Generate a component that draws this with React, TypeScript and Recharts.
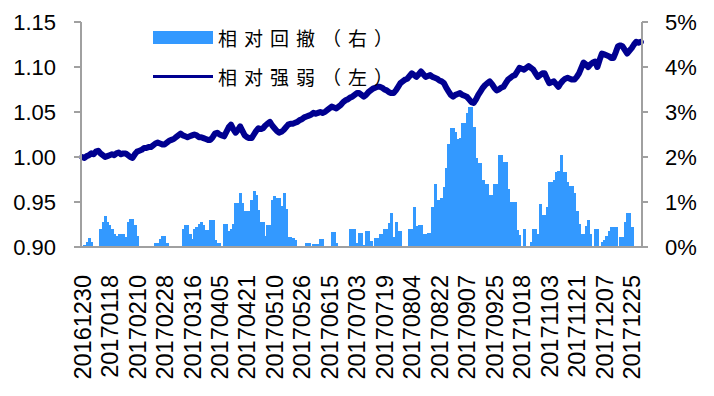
import React from 'react';
import { ComposedChart, Bar, Line, XAxis, YAxis, Legend } from 'recharts';

// 相对强弱 vs 相对回撤, daily, 20161230 - 20171229
const TICK_LABELS = [
  '20161230', '20170118', '20170210', '20170228', '20170316', '20170405', '20170421',
  '20170510', '20170526', '20170615', '20170703', '20170719', '20170804', '20170822',
  '20170907', '20170925', '20171018', '20171103', '20171121', '20171207', '20171225',
];

// relative strength (left axis)
const STRENGTH = [
  1.000, 0.999, 1.001, 1.002, 1.004, 1.003, 1.006, 1.007, 1.004, 1.002,
  1.000, 1.001, 1.002, 1.003, 1.002, 1.004, 1.005, 1.003, 1.004, 1.004,
  1.002, 1.000, 0.999, 1.003, 1.006, 1.007, 1.008, 1.010, 1.010, 1.011,
  1.011, 1.013, 1.015, 1.016, 1.015, 1.014, 1.014, 1.016, 1.018, 1.019,
  1.020, 1.022, 1.024, 1.026, 1.024, 1.023, 1.022, 1.023, 1.024, 1.025,
  1.024, 1.022, 1.022, 1.021, 1.020, 1.019, 1.019, 1.022, 1.026, 1.027,
  1.025, 1.024, 1.023, 1.028, 1.033, 1.036, 1.031, 1.027, 1.030, 1.034,
  1.029, 1.024, 1.022, 1.021, 1.021, 1.025, 1.029, 1.032, 1.031, 1.032,
  1.035, 1.037, 1.039, 1.035, 1.032, 1.029, 1.027, 1.028, 1.030, 1.033,
  1.036, 1.037, 1.037, 1.038, 1.039, 1.041, 1.042, 1.044, 1.045, 1.046,
  1.047, 1.049, 1.048, 1.049, 1.050, 1.049, 1.050, 1.052, 1.054, 1.056,
  1.055, 1.054, 1.056, 1.058, 1.061, 1.063, 1.064, 1.066, 1.067, 1.069,
  1.071, 1.071, 1.069, 1.067, 1.069, 1.072, 1.074, 1.076, 1.077, 1.078,
  1.078, 1.077, 1.075, 1.074, 1.072, 1.071, 1.071, 1.074, 1.078, 1.082,
  1.084, 1.086, 1.087, 1.090, 1.093, 1.091, 1.089, 1.092, 1.095, 1.092,
  1.089, 1.090, 1.091, 1.089, 1.088, 1.087, 1.085, 1.084, 1.082, 1.077,
  1.073, 1.069, 1.067, 1.069, 1.070, 1.071, 1.069, 1.068, 1.067, 1.064,
  1.061, 1.060, 1.064, 1.069, 1.073, 1.077, 1.080, 1.082, 1.084, 1.081,
  1.077, 1.074, 1.075, 1.077, 1.078, 1.082, 1.086, 1.088, 1.090, 1.091,
  1.095, 1.099, 1.098, 1.097, 1.099, 1.101, 1.099, 1.097, 1.093, 1.089,
  1.091, 1.093, 1.093, 1.087, 1.082, 1.083, 1.084, 1.081, 1.078, 1.082,
  1.085, 1.087, 1.088, 1.087, 1.086, 1.086, 1.089, 1.093, 1.099, 1.105,
  1.103, 1.100, 1.103, 1.105, 1.106, 1.100, 1.108, 1.115, 1.114, 1.113,
  1.112, 1.110, 1.110, 1.116, 1.123, 1.124, 1.123, 1.119, 1.115, 1.118,
  1.121, 1.125, 1.128, 1.127, 1.128,
];

// relative drawdown in % (right axis)
const DRAWDOWN = [
  0, 0.05, 0.12, 0.2, 0.12, 0, 0, 0, 0.41, 0.55,
  0.69, 0.55, 0.49, 0.39, 0.3, 0.24, 0.3, 0.3, 0.28, 0.22,
  0.56, 0.62, 0.62, 0.49, 0.24, 0, 0, 0, 0, 0,
  0, 0, 0.1, 0.1, 0.17, 0.24, 0.24, 0.1, 0, 0,
  0, 0, 0, 0, 0.41, 0.48, 0.48, 0.28, 0.17, 0.41,
  0.45, 0.52, 0.56, 0.48, 0.37, 0.37, 0.6, 0.6, 0.16, 0.1,
  0.1, 0, 0.51, 0.51, 0.35, 0.4, 0.51, 0.97, 0.97, 1.19,
  0.97, 0.8, 0.8, 0.8, 1.04, 1.25, 1.16, 0.83, 0.55, 0.55,
  0.24, 0.5, 0.5, 1.04, 1.13, 1.1, 1.1, 0.92, 1.21, 0.85,
  0.23, 0.23, 0.2, 0.16, 0, 0, 0, 0, 0.1, 0.1,
  0, 0.06, 0.06, 0.06, 0.18, 0.18, 0, 0, 0, 0.33,
  0.33, 0.1, 0, 0, 0, 0, 0, 0.4, 0.4, 0.4,
  0.1, 0.32, 0.32, 0.05, 0.36, 0.36, 0.13, 0, 0.2, 0.2,
  0.3, 0.3, 0.39, 0.39, 0.53, 0.76, 0.22, 0.55, 0.36, 0.36,
  0, 0, 0, 0.39, 0.39, 0.9, 0.47, 0.5, 0.5, 0.28,
  0.28, 0.32, 0.32, 0.9, 1.41, 1.04, 1.04, 1.08, 1.33, 1.75,
  2.3, 2.64, 2.64, 2.56, 2.39, 2.43, 2.76, 2.76, 2.97, 3.12,
  3.12, 2.67, 1.97, 1.86, 1.86, 1.49, 1.39, 1.39, 1.16, 1.16,
  1.41, 1.41, 2.04, 2.04, 1.89, 1.89, 1.3, 1.0, 1.0, 1.0,
  0.37, 0.26, 0, 0.41, 0, 0, 0.11, 0.41, 0.41, 0.3,
  0.96, 0.71, 0.71, 0.9, 1.44, 1.44, 1.5, 1.67, 1.7, 2.04,
  1.67, 1.67, 1.44, 1.35, 1.35, 1.19, 0.8, 0.52, 0.3, 0.3,
  0.47, 0.61, 0.3, 0, 0.41, 0.41, 0, 0.11, 0.15, 0.24,
  0.36, 0.44, 0.44, 0.44, 0, 0.22, 0.22, 0.56, 0.76, 0.76,
  0.44, 0, 0, 0, 0,
];

const LEFT_TICKS = [0.9, 0.95, 1.0, 1.05, 1.1, 1.15];
const RIGHT_TICKS = [0, 1, 2, 3, 4, 5];

const LABEL_STEP = 12; // one label every 12 trading days

const data = STRENGTH.map((v, i) => ({ i, strength: v, drawdown: DRAWDOWN[i] }));
const xTicks = TICK_LABELS.map((_, k) => k * LABEL_STEP);

const NUM_FONT = '"Liberation Sans", Arial, sans-serif';
const CJK_FONT = '"Noto Sans CJK SC", sans-serif';
const AXIS_GREY = '#A0A0A0';
const BAR_BLUE = '#3399FF';
const LINE_NAVY = '#000090';

const DateTick = ({ x, y, payload }: any) => (
  <text
    x={0}
    y={0}
    transform={`translate(${x},${y + 28}) rotate(-90)`}
    textAnchor="end"
    dy="0.36em"
    fontSize={23.5}
    fontFamily={NUM_FONT}
    fill="#000"
  >
    {TICK_LABELS[payload.value / LABEL_STEP]}
  </text>
);

// bars slightly widened so neighbouring days touch, like the source
const SolidBar = ({ x, y, width, height }: any) =>
  height > 0 ? (
    <rect x={x} y={y} width={width + 1} height={height} fill={BAR_BLUE} shapeRendering="crispEdges" />
  ) : null;

const LegendBox = () => (
  <div style={{ fontFamily: CJK_FONT, fontSize: 19, letterSpacing: 7, color: '#000', lineHeight: 1 }}>
    <div style={{ display: 'flex', alignItems: 'center', height: 39 }}>
      <span style={{ display: 'inline-block', width: 60, height: 13, background: BAR_BLUE, marginRight: 5 }} />
      <span>相对回撤（右）</span>
    </div>
    <div style={{ display: 'flex', alignItems: 'center', height: 39 }}>
      <span style={{ display: 'inline-block', width: 60, height: 2.5, background: LINE_NAVY, marginRight: 5 }} />
      <span>相对强弱（左）</span>
    </div>
  </div>
);

export default function App() {
  return (
    <div style={{ position: 'absolute', left: 0, top: 0, background: '#fff' }}>
      <ComposedChart
        width={714}
        height={396}
        data={data}
        margin={{ top: 22, right: 0, bottom: 0, left: 0 }}
        barCategoryGap={0}
        barGap={0}
      >
        <XAxis
          dataKey="i"
          type="category"
          ticks={xTicks}
          interval={0}
          tick={<DateTick />}
          tickLine={false}
          tickSize={0}
          tickMargin={0}
          axisLine={{ stroke: AXIS_GREY, strokeWidth: 2 }}
          height={149}
        />
        <YAxis
          yAxisId="left"
          domain={[0.9, 1.15]}
          ticks={LEFT_TICKS}
          interval={0}
          width={81}
          tickSize={7}
          tickMargin={18}
          tickFormatter={(v: number) => v.toFixed(2)}
          tick={{ fontSize: 22, fill: '#000', fontFamily: NUM_FONT }}
          axisLine={{ stroke: AXIS_GREY, strokeWidth: 2 }}
          tickLine={{ stroke: AXIS_GREY, strokeWidth: 2 }}
        />
        <YAxis
          yAxisId="right"
          orientation="right"
          domain={[0, 5]}
          ticks={RIGHT_TICKS}
          interval={0}
          width={72}
          tickSize={6}
          tickMargin={17}
          tickFormatter={(v: number) => `${v}%`}
          tick={{ fontSize: 22, fill: '#000', fontFamily: NUM_FONT, textAnchor: 'start' }}
          axisLine={{ stroke: AXIS_GREY, strokeWidth: 2 }}
          tickLine={{ stroke: AXIS_GREY, strokeWidth: 2 }}
        />
        <Legend
          layout="vertical"
          align="center"
          verticalAlign="middle"
          content={<LegendBox />}
          wrapperStyle={{ left: 153, top: 18, width: 280 }}
        />
        <Bar yAxisId="right" dataKey="drawdown" fill={BAR_BLUE} shape={<SolidBar />} isAnimationActive={false} />
        <Line
          yAxisId="left"
          type="linear"
          dataKey="strength"
          stroke={LINE_NAVY}
          strokeWidth={6}
          strokeLinejoin="round"
          strokeLinecap="round"
          dot={false}
          activeDot={false}
          isAnimationActive={false}
        />
      </ComposedChart>
    </div>
  );
}
